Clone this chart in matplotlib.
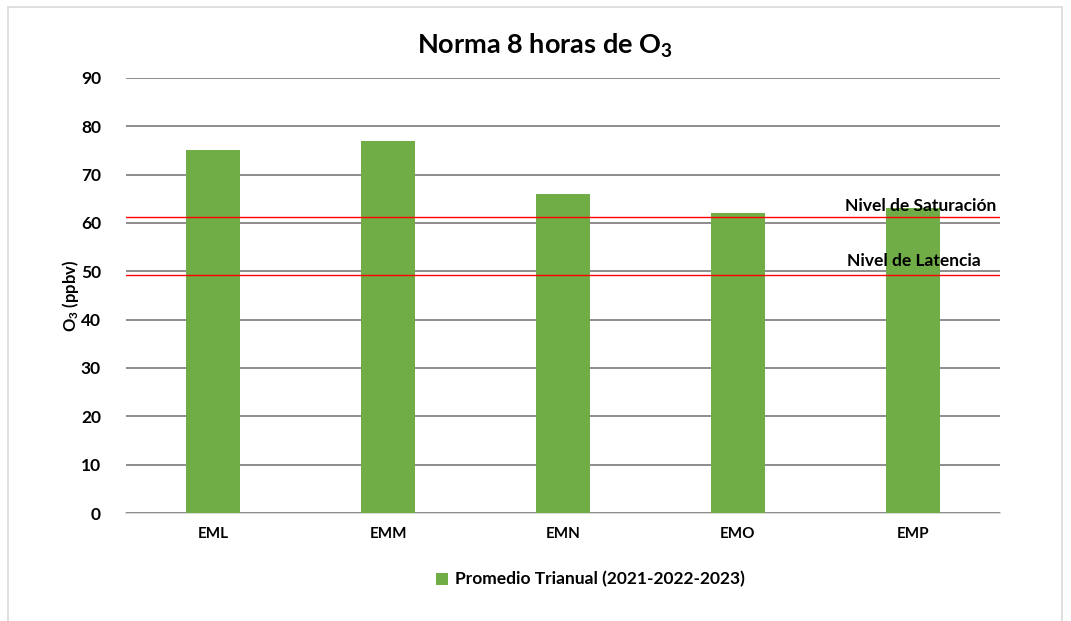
import matplotlib.pyplot as plt
from matplotlib.patches import Rectangle

# Data
stations = ['EML', 'EMM', 'EMN', 'EMO', 'EMP']
promedio = [75, 77, 66, 62, 63]
nivel_saturacion = 61.2
nivel_latencia = 49.2
yticks = [0, 10, 20, 30, 40, 50, 60, 70, 80, 90]

plt.rcParams['font.family'] = ['Lato', 'DejaVu Sans']
plt.rcParams['font.weight'] = 'bold'
plt.rcParams['mathtext.fontset'] = 'custom'
plt.rcParams['mathtext.rm'] = 'Lato:bold'
plt.rcParams['mathtext.bf'] = 'Lato:bold'
plt.rcParams['mathtext.default'] = 'bf'

fig = plt.figure(figsize=(10.71, 6.21), dpi=100)
ax = fig.add_axes([126 / 1071, 1 - 513 / 621, 874 / 1071, 435 / 621])

# outer chart frame
fig.patches.append(Rectangle((8 / 1071, -0.01), 1054 / 1071, 1 - 7 / 621 + 0.01,
                             transform=fig.transFigure, fill=False,
                             edgecolor='#d9d9d9', linewidth=1.2))

x = list(range(len(stations)))
ax.bar(x, promedio, width=0.31, color='#70AD47', zorder=3,
       label='Promedio Trianual (2021-2022-2023)')

ax.axhline(nivel_saturacion, color='#ff0000', linewidth=1.0, zorder=4)
ax.axhline(nivel_latencia, color='#ff0000', linewidth=1.0, zorder=4)
ax.text(4.48, nivel_saturacion + 0.6, 'Nivel de Saturación', ha='right', va='bottom',
        fontsize=12.5, fontweight='bold', zorder=5)
ax.text(4.39, nivel_latencia + 1.3, 'Nivel de Latencia', ha='right', va='bottom',
        fontsize=12.5, fontweight='bold', zorder=5)

ax.set_xlim(-0.5, 4.5)
ax.set_ylim(0, 90)
ax.set_yticks(yticks)
ax.set_xticks(x)
ax.set_xticklabels(stations, fontsize=11, fontweight='bold')
ax.tick_params(axis='y', labelsize=12.5, length=0, pad=18)
ax.tick_params(axis='x', length=0, pad=10)
for lbl in ax.get_yticklabels():
    lbl.set_fontweight('bold')

ax.grid(axis='y', color='#8c8c8c', linewidth=1.4, zorder=0)
for s in ['top', 'right', 'left']:
    ax.spines[s].set_visible(False)
ax.spines['bottom'].set_color('#d9d9d9')
ax.spines['bottom'].set_linewidth(1.4)
ax.spines['bottom'].set_zorder(1)

ax.set_ylabel('O$_{3}$ (ppbv)', fontsize=12, fontweight='bold')
ax.yaxis.set_label_coords(-0.051, 0.5)

fig.text(545 / 1071, 1 - 46 / 621, 'Norma 8 horas de O$_{3}$',
         ha='center', va='center', fontsize=19.5, fontweight='bold')

ax.legend(loc='center', bbox_to_anchor=(0.531, -0.153), frameon=False,
          prop={'size': 12.5, 'weight': 'bold'},
          handlelength=0.7, handleheight=0.7, handletextpad=0.4)

fig.savefig('out.png', dpi=100)
